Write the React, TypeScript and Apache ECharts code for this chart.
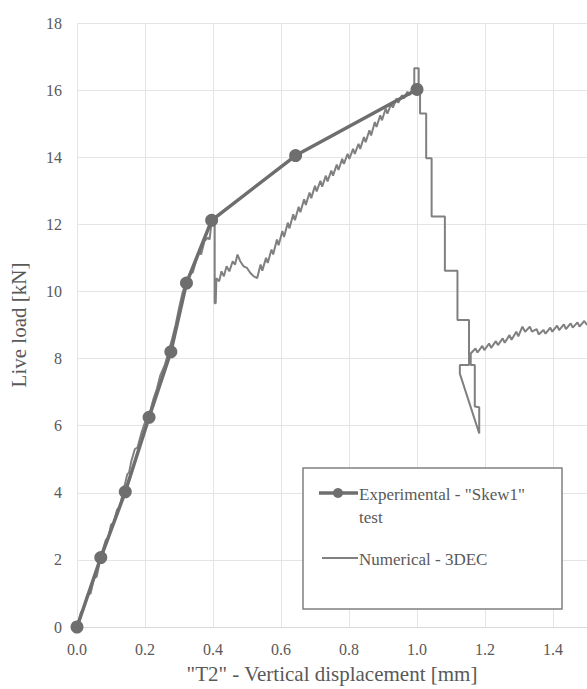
import React, { useEffect, useRef } from "react";
import * as echarts from "echarts";

// Experimental - "Skew1" test (markers)
const experimentalX = [0, 0.07, 0.142, 0.212, 0.276, 0.322, 0.396, 0.643, 1.0];
const experimentalY = [0, 2.07, 4.03, 6.25, 8.2, 10.25, 12.12, 14.05, 16.02];

// Numerical - 3DEC
const numericalX = [
  0, 0.012, 0.018, 0.03, 0.04, 0.05, 0.058, 0.07, 0.085, 0.092, 0.1, 0.108, 0.118, 0.125,
  0.135, 0.148, 0.153, 0.16, 0.17, 0.178, 0.19, 0.2, 0.212, 0.225, 0.235, 0.245, 0.258,
  0.268, 0.28, 0.29, 0.3, 0.31, 0.322, 0.335, 0.34, 0.35, 0.36, 0.365, 0.375, 0.385, 0.39,
  0.395, 0.4, 0.405, 0.405, 0.408, 0.41, 0.418, 0.425, 0.432, 0.44, 0.448, 0.458, 0.465,
  0.472, 0.48, 0.49, 0.5, 0.51, 0.52, 0.53, 0.54, 0.545, 0.556, 0.561, 0.572, 0.577, 0.588,
  0.593, 0.604, 0.609, 0.62, 0.625, 0.636, 0.641, 0.652, 0.657, 0.668, 0.673, 0.684,
  0.689, 0.7, 0.705, 0.716, 0.721, 0.732, 0.737, 0.748, 0.753, 0.764, 0.769, 0.78, 0.785,
  0.796, 0.801, 0.812, 0.817, 0.828, 0.833, 0.844, 0.849, 0.86, 0.865, 0.876, 0.881,
  0.892, 0.897, 0.908, 0.913, 0.924, 0.929, 0.94, 0.945, 0.956, 0.961, 0.972, 0.977,
  0.988, 0.992, 0.992, 1.005, 1.005, 1.009, 1.009, 1.027, 1.027, 1.043, 1.043, 1.082,
  1.082, 1.119, 1.119, 1.153, 1.153, 1.126, 1.126, 1.183, 1.183, 1.17, 1.17, 1.158,
  1.158, 1.172, 1.178, 1.192, 1.198, 1.212, 1.218, 1.232, 1.238, 1.252, 1.258, 1.272,
  1.278, 1.292, 1.298, 1.31, 1.318, 1.332, 1.338, 1.352, 1.358, 1.372, 1.378, 1.392,
  1.398, 1.412, 1.418, 1.432, 1.438, 1.452, 1.458, 1.472, 1.478, 1.492, 1.5,
];
const numericalY = [
  0, 0.45, 0.5, 0.95, 1.0, 1.45, 1.5, 2.1, 2.6, 2.65, 3.05, 3.1, 3.5, 3.55,
  4.0, 4.55, 4.6, 4.95, 5.3, 5.35, 5.8, 6.1, 6.3, 6.8, 7.1, 7.5, 7.8,
  8.15, 8.6, 9.0, 9.5, 9.95, 10.3, 10.6, 10.55, 10.9, 11.2, 11.1, 11.5, 11.6, 11.55,
  12.0, 12.1, 12.1, 9.65, 9.65, 10.4, 10.3, 10.6, 10.45, 10.75, 10.6, 10.9, 10.8,
  11.1, 10.9, 10.75, 10.7, 10.55, 10.45, 10.4, 10.8, 10.62, 11.0, 10.85, 11.25, 11.1, 11.55,
  11.38, 11.8, 11.62, 12.05, 11.88, 12.3, 12.12, 12.52, 12.36, 12.75, 12.58, 12.95,
  12.78, 13.15, 12.98, 13.3, 13.12, 13.45, 13.28, 13.6, 13.45, 13.78, 13.62, 13.95, 13.8,
  14.1, 13.95, 14.25, 14.1, 14.4, 14.25, 14.6, 14.45, 14.8, 14.65, 15.05, 14.9,
  15.25, 15.1, 15.45, 15.3, 15.6, 15.48, 15.75, 15.62, 15.85, 15.75, 15.95, 15.85,
  16.0, 16.05, 16.65, 16.65, 16.1, 16.1, 15.3, 15.3, 13.97, 13.97, 12.23, 12.23,
  10.62, 10.62, 9.15, 9.15, 7.81, 7.81, 7.55, 5.77, 6.55, 6.57, 7.81, 7.81,
  8.15, 8.3, 8.18, 8.38, 8.25, 8.45, 8.32, 8.52, 8.4, 8.6, 8.47, 8.7,
  8.56, 8.8, 8.66, 8.95, 8.8, 8.95, 8.8, 8.88, 8.72, 8.85, 8.74, 8.92,
  8.8, 8.98, 8.85, 9.02, 8.88, 9.05, 8.92, 9.08, 8.95, 9.12, 9.0,
];

const xTitle = '"T2" - Vertical displacement [mm]';
const yTitle = "Live load [kN]";
const expName = 'Experimental - "Skew1"\ntest';
const numName = "Numerical - 3DEC";

const FONT = "Liberation Serif";
const TXT = "#595959";
const EXP_COLOR = "#6e6e6e";
const NUM_COLOR = "#808080";

export default function App() {
  const ref = useRef<HTMLDivElement>(null);
  useEffect(() => {
    if (!ref.current) return;
    const chart = echarts.init(ref.current, undefined, { renderer: "svg" });
    const expData = experimentalX.map((x, i) => [x, experimentalY[i]]);
    const numData = numericalX.map((x, i) => [x, numericalY[i]]);
    const [expLine1, expLine2] = expName.split("\n");
    chart.setOption({
      animation: false,
      backgroundColor: "#ffffff",
      grid: { left: 75, top: 23, width: 518, height: 604 },
      xAxis: {
        type: "value",
        min: 0,
        max: 1.5,
        interval: 0.2,
        axisLine: { show: true, lineStyle: { color: "#d9d9d9", width: 1 } },
        axisTick: { show: false },
        splitLine: { show: true, lineStyle: { color: "#e4e4e4", width: 1 } },
        axisLabel: {
          formatter: (v: number) => v.toFixed(1),
          color: TXT,
          fontFamily: FONT,
          fontSize: 16,
          margin: 14,
          showMaxLabel: false,
        },
        name: xTitle,
        nameLocation: "middle",
        nameGap: 36,
        nameTextStyle: { color: TXT, fontFamily: FONT, fontSize: 21 },
      },
      yAxis: {
        type: "value",
        min: 0,
        max: 18,
        interval: 2,
        axisLine: { show: false },
        axisTick: { show: false },
        splitLine: { show: true, lineStyle: { color: "#e4e4e4", width: 1 } },
        axisLabel: {
          color: TXT,
          fontFamily: FONT,
          fontSize: 16,
          margin: 15,
        },
        name: yTitle,
        nameLocation: "middle",
        nameGap: 48,
        nameTextStyle: { color: TXT, fontFamily: FONT, fontSize: 21 },
      },
      series: [
        {
          name: numName,
          type: "line",
          data: numData,
          showSymbol: false,
          symbol: "none",
          lineStyle: { color: NUM_COLOR, width: 2 },
          z: 2,
        },
        {
          name: expName,
          type: "line",
          data: expData,
          symbol: "circle",
          symbolSize: 13,
          itemStyle: { color: EXP_COLOR },
          lineStyle: { color: EXP_COLOR, width: 3.5 },
          z: 3,
        },
      ],
      graphic: [
        {
          type: "rect",
          shape: { x: 303, y: 468, width: 259, height: 141 },
          style: { fill: "#ffffff", stroke: "#808080", lineWidth: 1.5 },
          z: 10,
        },
        {
          type: "line",
          shape: { x1: 319, y1: 493, x2: 358, y2: 493 },
          style: { stroke: EXP_COLOR, lineWidth: 3.5 },
          z: 11,
        },
        {
          type: "circle",
          shape: { cx: 338, cy: 493, r: 5 },
          style: { fill: EXP_COLOR },
          z: 11,
        },
        {
          type: "text",
          x: 359,
          y: 494,
          style: { text: expLine1, fill: TXT, font: `17px "${FONT}"`, verticalAlign: "middle" },
          z: 11,
        },
        {
          type: "text",
          x: 359,
          y: 517,
          style: { text: expLine2, fill: TXT, font: `17px "${FONT}"`, verticalAlign: "middle" },
          z: 11,
        },
        {
          type: "line",
          shape: { x1: 322, y1: 558, x2: 358, y2: 558 },
          style: { stroke: NUM_COLOR, lineWidth: 2 },
          z: 11,
        },
        {
          type: "text",
          x: 359,
          y: 559,
          style: { text: numName, fill: TXT, font: `17px "${FONT}"`, verticalAlign: "middle" },
          z: 11,
        },
      ],
    });
    return () => chart.dispose();
  }, []);
  return (
    <div
      ref={ref}
      style={{ position: "absolute", left: 0, top: 0, width: 587, height: 689 }}
    />
  );
}
